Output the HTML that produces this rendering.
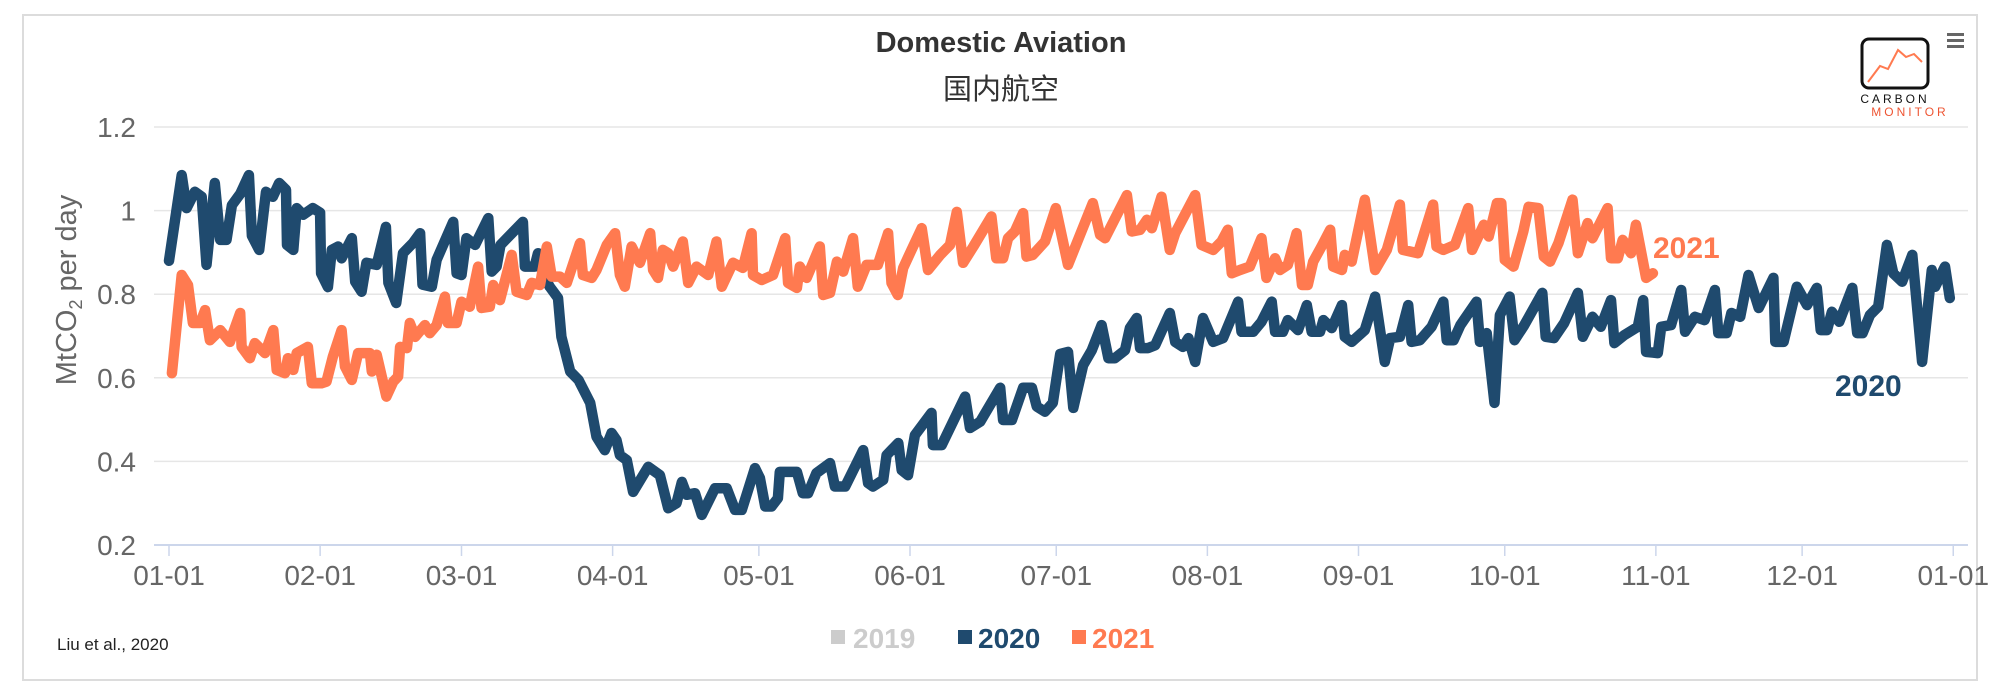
<!DOCTYPE html>
<html><head><meta charset="utf-8"><style>
html,body{margin:0;padding:0;background:#fff;}
body{width:2000px;height:694px;position:relative;overflow:hidden;font-family:"Liberation Sans","Noto Sans CJK SC",sans-serif;}
#frame{position:absolute;left:22px;top:14px;width:1956px;height:667px;border:2px solid #dcdcdc;box-sizing:border-box;}
</style></head><body>
<div id="frame"></div>
<svg id="chart" width="2000" height="694" style="position:absolute;left:0;top:0">
<text x="1001" y="52" text-anchor="middle" font-size="29" font-weight="bold" fill="#333">Domestic Aviation</text>
<text x="1001" y="99" text-anchor="middle" font-size="29" fill="#333" font-family="'Liberation Sans','Noto Sans CJK SC',sans-serif">国内航空</text>
<g>
<rect x="1862" y="39" width="66" height="49" rx="7" fill="none" stroke="#111" stroke-width="3"/>
<polyline points="1868,82 1880,66 1888,69 1898,50 1906,57 1914,54 1922,62" fill="none" stroke="#ff7a50" stroke-width="2"/>
<text x="1895" y="103" text-anchor="middle" font-size="12" letter-spacing="3" fill="#111">CARBON</text>
<text x="1910" y="116" text-anchor="middle" font-size="12" letter-spacing="3" fill="#e53">MONITOR</text>
</g>
<g>
<rect x="1947" y="33" width="17" height="3" fill="#666"/><rect x="1947" y="39" width="17" height="3" fill="#666"/><rect x="1947" y="45" width="17" height="3" fill="#666"/>
</g>
<g id="grid"></g>
<g id="yticks"></g>
<g id="xticks"></g>
<text transform="translate(76,290) rotate(-90)" text-anchor="middle" font-size="29" fill="#666">MtCO<tspan font-size="18" dy="6">2</tspan><tspan dy="-6"> per day</tspan></text>
<g id="series"></g>
<text x="1653" y="258" font-size="30" font-weight="bold" fill="#ff7a50">2021</text>
<text x="1835" y="396" font-size="30" font-weight="bold" fill="#1f4a6e">2020</text>
<text x="57" y="650" font-size="17" fill="#222">Liu et al., 2020</text>
<g>
<g><rect x="831" y="630" width="14" height="14" fill="#ccc"/><text x="853" y="648" font-size="28" font-weight="bold" fill="#ccc">2019</text></g>
<g><rect x="958" y="630" width="14" height="14" fill="#1f4a6e"/><text x="978" y="648" font-size="28" font-weight="bold" fill="#1f4a6e">2020</text></g>
<g><rect x="1072" y="630" width="14" height="14" fill="#ff7a50"/><text x="1092" y="648" font-size="28" font-weight="bold" fill="#ff7a50">2021</text></g>
</g>
</svg>
<script>
const yTicks=[0.2,0.4,0.6,0.8,1,1.2];
const yTickLabels=["0.2","0.4","0.6","0.8","1","1.2"];
const monthStartDays=[0,31,60,91,121,152,182,213,244,274,305,335,366];
const xTickLabels=["01-01","02-01","03-01","04-01","05-01","06-01","07-01","08-01","09-01","10-01","11-01","12-01","01-01"];
const days2020=[0,2.6,3.6,5.3,6.7,7.7,9.4,10.5,11.8,12.9,14.6,16.4,17,18.5,19.9,21.3,22.6,24,24.2,25.5,26.2,27.5,29.5,31,31.2,32.6,33.4,34.7,35.4,37.5,38.2,39.5,40.5,42.6,44.5,45,46.6,48,50,51.5,52,53.9,54.9,58.3,59,60,61,62.8,65.5,66.2,67.2,68,72.6,73,75,75.7,76.8,78.1,79.8,80.5,82.3,84,86.4,87.7,89.4,90.8,91.8,92.5,93.9,95.2,98.3,100.7,102.4,104.1,105.2,106.2,107.9,109.3,112,114.4,116.1,117.5,120.2,121.2,122.3,123.6,124.9,125.3,128.8,130,131.1,132.8,135.6,136.6,138.7,142.4,143.4,144.4,146.5,147.2,149.6,150.3,151.6,153,156.4,156.7,158.5,163.3,164.3,166.4,170.5,171.1,172.9,175.2,177,178,179.7,181.3,182.8,184.4,185.5,187.5,189.3,191.3,192.7,194,196.1,197.1,198.5,199.2,200.8,202.3,205.3,206.4,208,209.1,210.5,212.1,214.2,216.2,219.3,220,222.4,224.1,226.2,226.9,228.5,229.5,231.6,233.4,234.4,236.1,236.8,238.5,240.6,241.2,242.6,245.3,247.4,249.4,250.5,252.5,254.2,254.9,256.6,259,261.4,262.1,263.5,264.9,268.2,268.9,270.3,271.9,273,275,276,278,281.7,282.4,284.1,286.2,289,290,292,293.7,295.8,296.5,298.5,301.3,302.4,303,305.4,306.1,308.1,310.2,311,313,315,317.1,317.8,319.5,320.5,322.3,324,326.1,329.1,329.5,331.2,333.9,336,338,338.8,340.1,341.1,342.6,345.3,346.3,347.4,348.9,350.6,352.4,353.7,355.5,357.6,359.6,361.6,362.3,364.3,365.3];
const values2020=[.88,1.085,1.006,1.045,1.033,.87,1.066,.93,.93,1.013,1.04,1.085,.94,.906,1.045,1.033,1.066,1.05,.918,.906,1.006,.99,1.006,.995,.85,.817,.906,.914,.886,.934,.83,.806,.875,.87,.961,.827,.779,.898,.922,.946,.823,.818,.882,.973,.85,.846,.934,.918,.982,.854,.866,.918,.973,.866,.866,.898,.846,.818,.791,.698,.615,.595,.54,.459,.427,.468,.451,.415,.403,.327,.387,.367,.288,.3,.351,.32,.324,.272,.336,.336,.284,.284,.384,.36,.292,.292,.312,.375,.375,.324,.324,.372,.396,.34,.34,.427,.348,.34,.356,.415,.444,.379,.367,.463,.516,.439,.439,.555,.48,.495,.576,.499,.499,.576,.576,.531,.519,.54,.657,.662,.528,.63,.666,.726,.647,.647,.666,.719,.743,.671,.671,.678,.755,.686,.674,.695,.638,.743,.686,.695,.782,.71,.71,.734,.782,.71,.71,.738,.714,.774,.71,.71,.738,.719,.774,.698,.686,.714,.794,.638,.695,.698,.774,.686,.69,.722,.782,.69,.69,.726,.782,.686,.707,.54,.75,.794,.69,.726,.803,.698,.695,.731,.803,.698,.746,.722,.786,.683,.702,.722,.786,.662,.659,.722,.726,.81,.71,.746,.738,.81,.707,.707,.755,.746,.846,.767,.839,.686,.686,.818,.774,.815,.714,.714,.758,.734,.815,.707,.707,.75,.77,.918,.85,.83,.894,.638,.858,.818,.866,.791];
const days2021=[0.6,2.6,3.9,4.9,6.4,7.4,8.4,10.5,12.5,14.6,14.9,16.6,17.6,19.7,21.4,22.1,23.8,24.4,25.5,26.2,28.5,29.3,31.3,32.3,33.6,35.4,36.1,37.5,38.8,41.2,41.6,42.6,44.6,46,47,47.4,48.8,49.4,50.5,52.5,53.5,54.9,56.6,57.2,59,60,61.7,63.4,64.1,65.8,66.5,67.9,70.3,71.3,73.4,74.4,76.1,77.5,78.5,80.2,81.6,84.3,84.9,86.7,87.7,89.8,91.5,92.5,93.5,94.9,96.6,98.7,99.3,100.3,101.3,102.4,103.4,105.4,106.5,108.2,110.6,112.3,113.4,115.7,117.7,119.5,119.8,121.6,123.9,126.4,127,128.8,129.4,130.8,133.5,134.2,135.6,137,138.3,140.3,141.3,143.1,145.4,147.5,148.2,149.5,150.6,152.3,154.4,155.7,158.2,160.2,161.6,162.9,165,168.7,169.7,171.1,172.1,173.5,175.2,175.9,177.2,179.7,181.9,184.4,189.5,191,192,196.5,197.5,199.2,200.6,201.6,203.6,205.3,206.4,210.5,211.8,214.2,215.9,217.2,218,219.7,221.7,224.1,225.1,226.9,227.9,229.5,231.3,232.4,233.6,234.7,236.4,238.2,238.8,240.6,241.2,242.6,245.3,247.4,249.8,252.5,253.1,256.2,259.3,260,261.4,263.8,266.5,267.3,269.7,270.7,272.4,273.3,274,275.8,277.8,278.9,280.9,282,283.3,285,287.9,289,291,292,295.1,295.8,297.2,298.2,299.9,300.9,303,304.4];
const values2021=[.611,.846,.822,.731,.731,.762,.69,.714,.686,.755,.674,.647,.683,.659,.714,.619,.611,.647,.619,.659,.674,.587,.587,.591,.65,.714,.627,.595,.659,.659,.615,.655,.555,.591,.603,.674,.671,.731,.698,.726,.707,.726,.794,.731,.731,.782,.77,.866,.767,.77,.822,.786,.894,.806,.798,.827,.822,.914,.842,.842,.827,.922,.846,.839,.858,.918,.946,.846,.818,.914,.875,.946,.858,.839,.906,.898,.866,.926,.827,.866,.846,.926,.818,.875,.863,.946,.846,.834,.846,.934,.827,.815,.866,.839,.914,.798,.803,.878,.854,.934,.818,.87,.87,.946,.827,.798,.863,.906,.958,.858,.894,.918,.997,.875,.914,.986,.886,.886,.934,.95,.994,.89,.894,.926,1.006,.87,1.018,.942,.934,1.037,.95,.954,.978,.958,1.033,.906,.946,1.037,.918,.906,.926,.954,.85,.858,.866,.934,.839,.886,.858,.87,.946,.822,.822,.878,.914,.954,.866,.858,.894,.878,1.026,.858,.906,1.014,.906,.898,1.014,.914,.906,.918,1.006,.906,.966,.938,1.018,1.018,.882,.866,.95,1.009,1.006,.89,.878,.922,1.026,.898,.97,.934,1.006,.886,.886,.93,.898,.966,.839,.85];

const NS="http://www.w3.org/2000/svg";
const X0=169,PX_PER_DAY=4.875,Y0=545,PX_PER_UNIT=418,PLOT_L=154,PLOT_R=1968;
function xScale(d){return X0+d*PX_PER_DAY;}
function yScale(v){return Y0-(v-0.2)*PX_PER_UNIT;}
function mk(tag,attrs){const e=document.createElementNS(NS,tag);for(const k in attrs)e.setAttribute(k,attrs[k]);return e;}

const grid=document.getElementById('grid'),yt=document.getElementById('yticks'),xt=document.getElementById('xticks'),ser=document.getElementById('series');
yTicks.forEach((v,i)=>{
  const y=yScale(v);
  const l=mk('line',{x1:PLOT_L,x2:PLOT_R,y1:y,y2:y,stroke:i===0?'#ccd6eb':'#e6e6e6','stroke-width':i===0?2:1.5});
  
  
  grid.appendChild(l);
  const t=mk('text',{x:136,y:y+10,'text-anchor':'end','font-size':28,fill:'#666'});
  t.textContent=yTickLabels[i];
  
  
  yt.appendChild(t);
});
monthStartDays.forEach((d,i)=>{
  const x=xScale(d);
  const l=mk('line',{x1:x,x2:x,y1:Y0,y2:Y0+11,stroke:'#ccd6eb','stroke-width':1.5});
  
  
  xt.appendChild(l);
  const t=mk('text',{x:x,y:585,'text-anchor':'middle','font-size':28,fill:'#666'});
  t.textContent=xTickLabels[i];
  
  
  xt.appendChild(t);
});
function drawLine(days,vals,color,name){
  let d='';
  days.forEach((dd,i)=>{d+=(i?'L':'M')+xScale(dd).toFixed(1)+' '+yScale(vals[i]).toFixed(1);});
  const p=mk('path',{d:d,fill:'none',stroke:color,'stroke-width':10.5,'stroke-linejoin':'round','stroke-linecap':'round'});
  
  
  ser.appendChild(p);
}
drawLine(days2020,values2020,'#1f4a6e','series-2020-line');
drawLine(days2021,values2021,'#ff7a50','series-2021-line');
</script>
</body></html>
